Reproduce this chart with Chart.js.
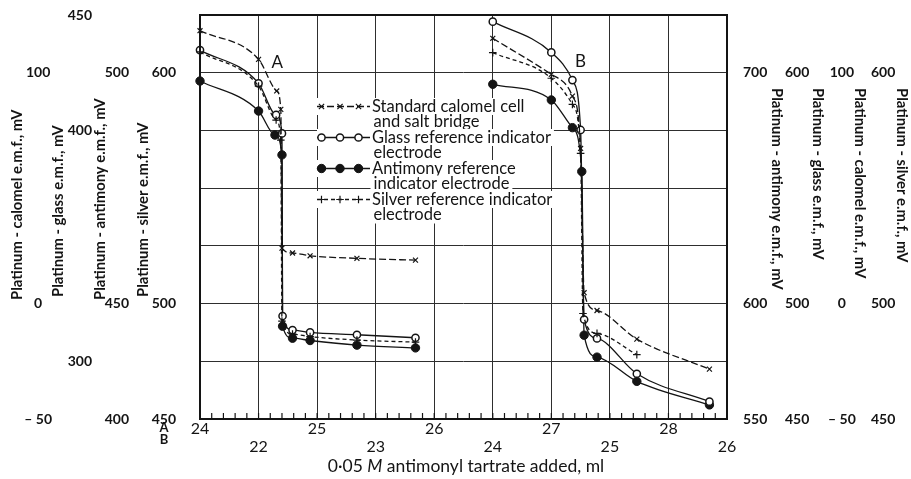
<!DOCTYPE html>
<html><head><meta charset="utf-8">
<script src="https://cdn.jsdelivr.net/npm/chart.js@4/dist/chart.umd.min.js"></script>
<style>html,body{margin:0;padding:0;background:#fff;}canvas{display:block;}</style>
</head><body>
<canvas id="c" width="911" height="479"></canvas>
<script>
// ---------- DATA (x in ml on scale A; y in mV on each curve's own axis) ----------
// Titration A (left-hand axes)
const calomelA_x  = [24.0, 24.5, 24.655, 24.69, 24.70, 24.79, 24.94, 25.34, 25.84];
const calomelA_y  = [118.2, 105.8, 92.1, 84.1, 24.0, 21.9, 20.7, 19.6, 18.8];
const glassA_x    = [24.0, 24.5, 24.65, 24.70, 24.705, 24.79, 24.94, 25.34, 25.84];
const glassA_y    = [434.8, 420.4, 406.7, 398.7, 319.6, 313.5, 312.5, 311.5, 310.2];
const antimonyA_x = [24.0, 24.5, 24.64, 24.70, 24.705, 24.79, 24.94, 25.34, 25.84];
const antimonyA_y = [498.2, 491.7, 486.5, 482.2, 445.1, 442.5, 442.0, 441.0, 440.4];
const silverA_x   = [24.0, 24.5, 24.65, 24.69, 24.70, 24.79, 24.94, 25.34, 25.84];
const silverA_y   = [609.0, 594.2, 579.5, 570.8, 492.4, 486.8, 485.7, 484.2, 483.3];
// Titration B (right-hand axes)
const calomelB_x  = [26.5, 27.0, 27.18, 27.25, 27.28, 27.39, 27.73, 28.35];
const calomelB_y  = [114.9, 99.3, 89.9, 67.2, 4.7, -3.0, -15.4, -28.4];
const glassB_x    = [26.5, 27.0, 27.18, 27.25, 27.28, 27.39, 27.73, 28.35];
const glassB_y    = [622.1, 608.8, 596.8, 575.2, 493.1, 484.9, 469.6, 457.5];
const antimonyB_x = [26.5, 27.0, 27.18, 27.26, 27.28, 27.39, 27.73, 28.35];
const antimonyB_y = [695.0, 688.2, 676.2, 657.2, 586.3, 576.8, 566.3, 556.1];
const silverB_x   = [26.5, 27.0, 27.18, 27.25, 27.27, 27.39, 27.73];
const silverB_y   = [608.7, 597.6, 586.3, 565.1, 495.7, 487.1, 477.9];

// ---------- TICK LABELS ----------
const xTickLabelsA = [24, 25, 26, 27, 28];
const xTickLabelsB = [22, 23, 24, 25, 26];
const calomelA_ticks = [100, 0, -50],   calomelA_text = ['100', '0', '\u2013 50'];
const glassA_ticks   = [450, 400, 300], glassA_text   = ['450', '400', '300'];
const antimonyA_ticks= [500, 450, 425], antimonyA_text= ['500', '450', '400'];
const silverA_ticks  = [600, 500, 450], silverA_text  = ['600', '500', '450'];
const antimonyB_ticks= [700, 600, 550], antimonyB_text= ['700', '600', '550'];
const glassB_ticks   = [600, 500, 450], glassB_text   = ['600', '500', '450'];
const calomelB_ticks = [100, 0, -50],   calomelB_text = ['100', '0', '\u2013 50'];
const silverB_ticks  = [600, 500, 450], silverB_text  = ['600', '500', '450'];

const legendEntries = [
  {kind: 'calomel',  lines: ['Standard calomel cell', 'and salt bridge']},
  {kind: 'glass',    lines: ['Glass reference indicator', 'electrode']},
  {kind: 'antimony', lines: ['Antimony reference', 'indicator electrode']},
  {kind: 'silver',   lines: ['Silver reference indicator', 'electrode']}
];
const xTitle = ['0\u00b705 ', 'M', ' antimonyl tartrate added, ml'];

// ---------- STYLES ----------
const INK = '#141414';
const styles = {
  calomel:  {pointStyle: 'crossRot', pointRadius: 3.5, pointBorderWidth: 1.2, pointBackgroundColor: INK, borderDash: [7, 3]},
  glass:    {pointStyle: 'circle', pointRadius: 3.6, pointBorderWidth: 1.5, pointBackgroundColor: '#fff', borderDash: []},
  antimony: {pointStyle: 'circle', pointRadius: 4.2, pointBorderWidth: 1, pointBackgroundColor: INK, borderDash: []},
  silver:   {pointStyle: 'cross', pointRadius: 3.8, pointBorderWidth: 1.2, pointBackgroundColor: INK, borderDash: [4, 3]}
};
function ds(kind, xs, ys, yAxisID) {
  const s = styles[kind];
  return Object.assign({
    data: xs.map((x, i) => ({x: x, y: ys[i]})),
    yAxisID: yAxisID, xAxisID: 'x',
    borderColor: INK, borderWidth: 1.3, pointBorderColor: INK,
    cubicInterpolationMode: 'monotone', fill: false, clip: false
  }, s);
}

function yAxis(pos, min, max, weight, width, pad, vals, texts, grid) {
  return {
    type: 'linear', position: pos, min: min, max: max, weight: weight,
    afterBuildTicks: s => { const st = (max - min) / 7; const t = []; for (let i = 0; i <= 7; i++) t.push({value: min + i * st}); s.ticks = t; },
    afterFit: s => { s.width = width; s.paddingTop = 0; s.paddingBottom = 0; },
    ticks: {
      autoSkip: false, padding: pad, crossAlign: 'center', color: INK,
      font: {family: 'Lato', weight: 'bold', size: 14},
      callback: v => { const i = vals.findIndex(t => Math.abs(t - v) < 1e-6); return i >= 0 ? texts[i] : ''; }
    },
    grid: {display: grid, color: '#2e2e2e', lineWidth: 1, drawTicks: false},
    border: {display: false}
  };
}

function drawMarker(ctx, kind, x, y) {
  const s = styles[kind]; const r = s.pointRadius;
  ctx.save(); ctx.setLineDash([]); ctx.strokeStyle = INK; ctx.lineWidth = s.pointBorderWidth;
  ctx.beginPath();
  if (s.pointStyle === 'circle') {
    ctx.arc(x, y, r, 0, Math.PI * 2); ctx.fillStyle = s.pointBackgroundColor; ctx.fill(); ctx.stroke();
  } else if (s.pointStyle === 'crossRot') {
    const d = r * 0.75; ctx.moveTo(x - d, y - d); ctx.lineTo(x + d, y + d); ctx.moveTo(x + d, y - d); ctx.lineTo(x - d, y + d); ctx.stroke();
  } else {
    ctx.moveTo(x - r, y); ctx.lineTo(x + r, y); ctx.moveTo(x, y - r); ctx.lineTo(x, y + r); ctx.stroke();
  }
  ctx.restore();
}

const decor = {
  id: 'decor',
  beforeDatasetsDraw(chart) {
    const ctx = chart.ctx;
    ctx.save();
    // legend (inside plot, white backing behind text rows)
    ctx.font = '16.5px Lato';
    ctx.textBaseline = 'middle'; ctx.textAlign = 'left';
    let y = 106.5; const lh = 15.5;
    legendEntries.forEach(e => {
      e.lines.forEach((t, j) => {
        const tx = j === 0 ? 372 : 373.5;
        const w = ctx.measureText(t).width;
        ctx.fillStyle = '#fff';
        const x0 = j === 0 ? 317 : tx - 3;
        ctx.fillRect(x0, y + lh * j - 8.5, tx + w + 3 - x0, 17);
        ctx.fillStyle = INK;
        ctx.fillText(t, tx, y + lh * j);
      });
      // sample
      ctx.strokeStyle = INK; ctx.lineWidth = 1.3; ctx.setLineDash(styles[e.kind].borderDash);
      ctx.beginPath(); ctx.moveTo(317, y); ctx.lineTo(370, y); ctx.stroke(); ctx.setLineDash([]);
      [321.5, 340, 358.5].forEach(mx => drawMarker(ctx, e.kind, mx, y));
      y += lh * e.lines.length;
    });
    ctx.restore();
  },
  afterDraw(chart) {
    const ctx = chart.ctx, a = chart.chartArea, xs = chart.scales.x, xb = chart.scales.xB;
    ctx.save();
    // frame
    ctx.strokeStyle = INK; ctx.lineWidth = 2; ctx.setLineDash([]);
    ctx.strokeRect(a.left, a.top, a.right - a.left, a.bottom - a.top);
    // minor ticks every 0.1 ml along the bottom
    ctx.lineWidth = 1.2;
    for (let i = 1; i < 45; i++) {
      const px = xs.getPixelForValue(24 + i / 10);
      ctx.beginPath(); ctx.moveTo(px, a.bottom); ctx.lineTo(px, a.bottom - 6); ctx.stroke();
    }
    ctx.fillStyle = INK; ctx.textBaseline = 'middle'; ctx.textAlign = 'center';
    // x tick labels, scale A row and scale B row
    ctx.font = '16px Lato';
    xTickLabelsA.forEach(v => ctx.fillText(String(v), xs.getPixelForValue(v), a.bottom + 10));
    xTickLabelsB.forEach(v => ctx.fillText(String(v), xb.getPixelForValue(v), a.bottom + 28));
    // curve letters
    ctx.font = '17px Lato';
    ctx.fillText('A', xs.getPixelForValue(24.66), a.top + 48);
    ctx.fillText('B', xs.getPixelForValue(27.25), a.top + 47);
    // row labels for x scales
    ctx.font = 'bold 13px Lato';
    ctx.fillText('A', 164, 428); ctx.fillText('B', 164, 440);
    // x title with italic M
    const TF = '17.5px Lato', TFI = 'italic 17.5px Lato';
    ctx.font = TF;
    const w0 = ctx.measureText(xTitle[0]).width, w2 = ctx.measureText(xTitle[2]).width;
    ctx.font = TFI; const w1 = ctx.measureText(xTitle[1]).width;
    let tx = 466 - (w0 + w1 + w2) / 2; ctx.textAlign = 'left';
    ctx.font = TF; ctx.fillText(xTitle[0], tx, 466); tx += w0;
    ctx.font = TFI; ctx.fillText(xTitle[1], tx, 466); tx += w1;
    ctx.font = TF; ctx.fillText(xTitle[2], tx, 466);
    // y titles
    const rot = (t, x, y, r, font) => { ctx.save(); ctx.font = font; ctx.translate(x, y); ctx.rotate(r); ctx.textAlign = 'left'; ctx.fillText(t, 0, 0); ctx.restore(); };
    const LF = 'bold 14.8px Lato', RF = 'bold 14.8px Lato';
    rot('Platinum - calomel e.m.f., mV', 17, 300, -Math.PI / 2, LF);
    rot('Platinum - glass e.m.f., mV', 58, 297, -Math.PI / 2, LF);
    rot('Platinum - antimony e.m.f., mV', 100, 300, -Math.PI / 2, LF);
    rot('Platinum - silver e.m.f., mV', 143, 297, -Math.PI / 2, LF);
    rot('Platinum - antimony e.m.f., mV', 777, 88, Math.PI / 2, RF);
    rot('Platinum - glass e.m.f., mV', 818, 88, Math.PI / 2, RF);
    rot('Platinum - calomel e.m.f., mV', 860, 88, Math.PI / 2, RF);
    rot('Platinum - silver e.m.f., mV', 902, 88, Math.PI / 2, RF);
    ctx.restore();
  }
};

new Chart(document.getElementById('c'), {
  type: 'line',
  data: {
    datasets: [
      ds('calomel', calomelA_x, calomelA_y, 'yCalA'),
      ds('silver', silverA_x, silverA_y, 'yAgA'),
      ds('glass', glassA_x, glassA_y, 'yGlaA'),
      ds('antimony', antimonyA_x, antimonyA_y, 'yAntA'),
      ds('calomel', calomelB_x, calomelB_y, 'yCalB'),
      ds('silver', silverB_x, silverB_y, 'yAgB'),
      ds('glass', glassB_x, glassB_y, 'yGlaB'),
      ds('antimony', antimonyB_x, antimonyB_y, 'yAntB')
    ]
  },
  options: {
    responsive: false, animation: false, devicePixelRatio: 1,
    layout: {padding: {top: 15, left: 0, right: 0, bottom: 0}},
    plugins: {legend: {display: false}, tooltip: {enabled: false}},
    scales: {
      x: {
        type: 'linear', position: 'bottom', min: 24, max: 28.5, weight: 1,
        afterFit: s => { s.height = 19; s.paddingLeft = 0; s.paddingRight = 0; },
        ticks: {stepSize: 0.5, autoSkip: false, maxRotation: 0, minRotation: 0, padding: 0, display: true,
          color: 'rgba(0,0,0,0)', font: {family: 'Lato', size: 16}, callback: () => ''},
        grid: {display: true, color: '#2e2e2e', lineWidth: 1, drawTicks: false},
        border: {display: false}
      },
      xB: {
        type: 'linear', position: 'bottom', min: 21.5, max: 26, weight: 2,
        afterFit: s => { s.height = 41; s.paddingLeft = 0; s.paddingRight = 0; },
        ticks: {display: false},
        grid: {display: false}, border: {display: false}
      },
      yCalA: yAxis('left', -50, 125, 4, 52, 0, calomelA_ticks, calomelA_text, true),
      yGlaA: yAxis('left', 275, 450, 3, 43, 3, glassA_ticks, glassA_text, false),
      yAntA: yAxis('left', 425, 512.5, 2, 42, 8, antimonyA_ticks, antimonyA_text, false),
      yAgA:  yAxis('left', 450, 625, 1, 63, 24, silverA_ticks, silverA_text, false),
      yAntB: yAxis('right', 550, 725, 1, 49, 16, antimonyB_ticks, antimonyB_text, false),
      yGlaB: yAxis('right', 450, 625, 2, 44, 9, glassB_ticks, glassB_text, false),
      yCalB: yAxis('right', -50, 125, 3, 42, 8, calomelB_ticks, calomelB_text, false),
      yAgB:  yAxis('right', 450, 625, 4, 49, 9, silverB_ticks, silverB_text, false)
    }
  },
  plugins: [decor]
});
</script>
</body></html>
